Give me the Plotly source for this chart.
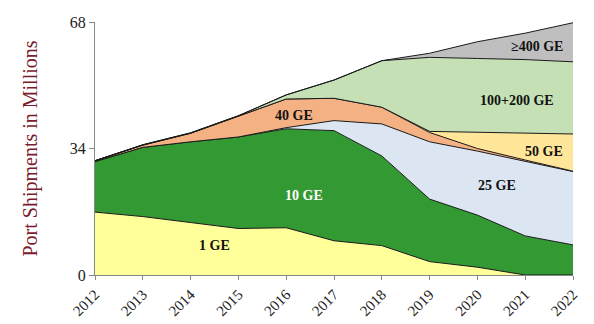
import plotly.graph_objects as go

years = [2012, 2013, 2014, 2015, 2016, 2017, 2018, 2019, 2020, 2021, 2022]

ge1 = [16.9, 15.7, 14.1, 12.5, 12.7, 9.2, 7.9, 3.6, 2.1, 0.0, 0.0]
ge10 = [13.6, 18.6, 21.7, 24.6, 26.6, 29.6, 24.1, 16.8, 14.0, 10.5, 8.1]
ge25 = [0.0, 0.0, 0.0, 0.0, 0.3, 2.7, 8.6, 15.4, 17.2, 20.0, 19.7]
ge40 = [0.2, 0.6, 2.3, 5.5, 7.7, 6.0, 4.5, 2.5, 0.7, 0.4, 0.1]
ge50 = [0.0, 0.0, 0.0, 0.0, 0.0, 0.0, 0.0, 0.3, 4.4, 7.2, 10.0]
ge100_200 = [0.0, 0.1, 0.1, 0.2, 1.1, 4.9, 12.5, 19.9, 19.8, 19.8, 19.4]
ge400 = [0.0, 0.0, 0.0, 0.0, 0.0, 0.0, 0.0, 1.1, 4.5, 7.1, 10.5]

series_names = ["1 GE", "10 GE", "25 GE", "40 GE", "50 GE", "100+200 GE", "\u2265400 GE"]
series_values = [ge1, ge10, ge25, ge40, ge50, ge100_200, ge400]
series_colors = ["#FFFF99", "#339933", "#DCE6F2", "#F4B183", "#FFE699", "#C5E0B4", "#BFBFBF"]

# label placement (data coords) and text colors
label_x = [2014.5, 2016.37, 2020.41, 2016.16, 2021.39, 2020.83, 2021.25]
label_y = [7.9, 21.3, 24.0, 42.8, 33.2, 46.9, 61.4]
label_colors = ["#111111", "#FFFFFF", "#111111", "#111111", "#111111", "#111111", "#111111"]

y_ticks = [0, 34, 68]

fig = go.Figure()
for name, vals, col in zip(series_names, series_values, series_colors):
    fig.add_trace(go.Scatter(
        x=years, y=vals, name=name, mode="lines",
        stackgroup="one", fillcolor=col,
        line=dict(color="#1a1a1a", width=1),
        hoverinfo="skip",
    ))

for name, lx, ly, lc in zip(series_names, label_x, label_y, label_colors):
    fig.add_annotation(
        x=lx, y=ly, text="<b>" + name + "</b>", showarrow=False,
        font=dict(family="Liberation Serif", size=14, color=lc),
        xanchor="center", yanchor="middle",
    )

fig.update_layout(
    width=594, height=324,
    margin=dict(l=95, r=21, t=22, b=49),
    paper_bgcolor="white", plot_bgcolor="white",
    showlegend=False,
    font=dict(family="Liberation Serif", color="#222222"),
)
fig.update_xaxes(
    range=[2012, 2022], tickmode="array", tickvals=years,
    ticktext=[str(y) for y in years], tickangle=-45, automargin=False,
    showgrid=False, zeroline=False, showline=True, linecolor="#888888", linewidth=1,
    ticks="outside", ticklen=4, tickcolor="#888888",
    tickfont=dict(family="Liberation Serif", size=15, color="#222222"),
)
fig.update_yaxes(
    range=[0, 68], tickmode="array", tickvals=y_ticks, automargin=False,
    showgrid=False, zeroline=False, showline=True, linecolor="#888888", linewidth=1,
    ticks="outside", ticklen=5, tickcolor="#888888",
    tickfont=dict(family="Liberation Serif", size=16, color="#222222"),
    title=dict(text="Port Shipments in Millions",
               font=dict(family="Liberation Serif", size=20, color="#7B1C2E"),
               standoff=26),
)

fig.write_html("out.html")
